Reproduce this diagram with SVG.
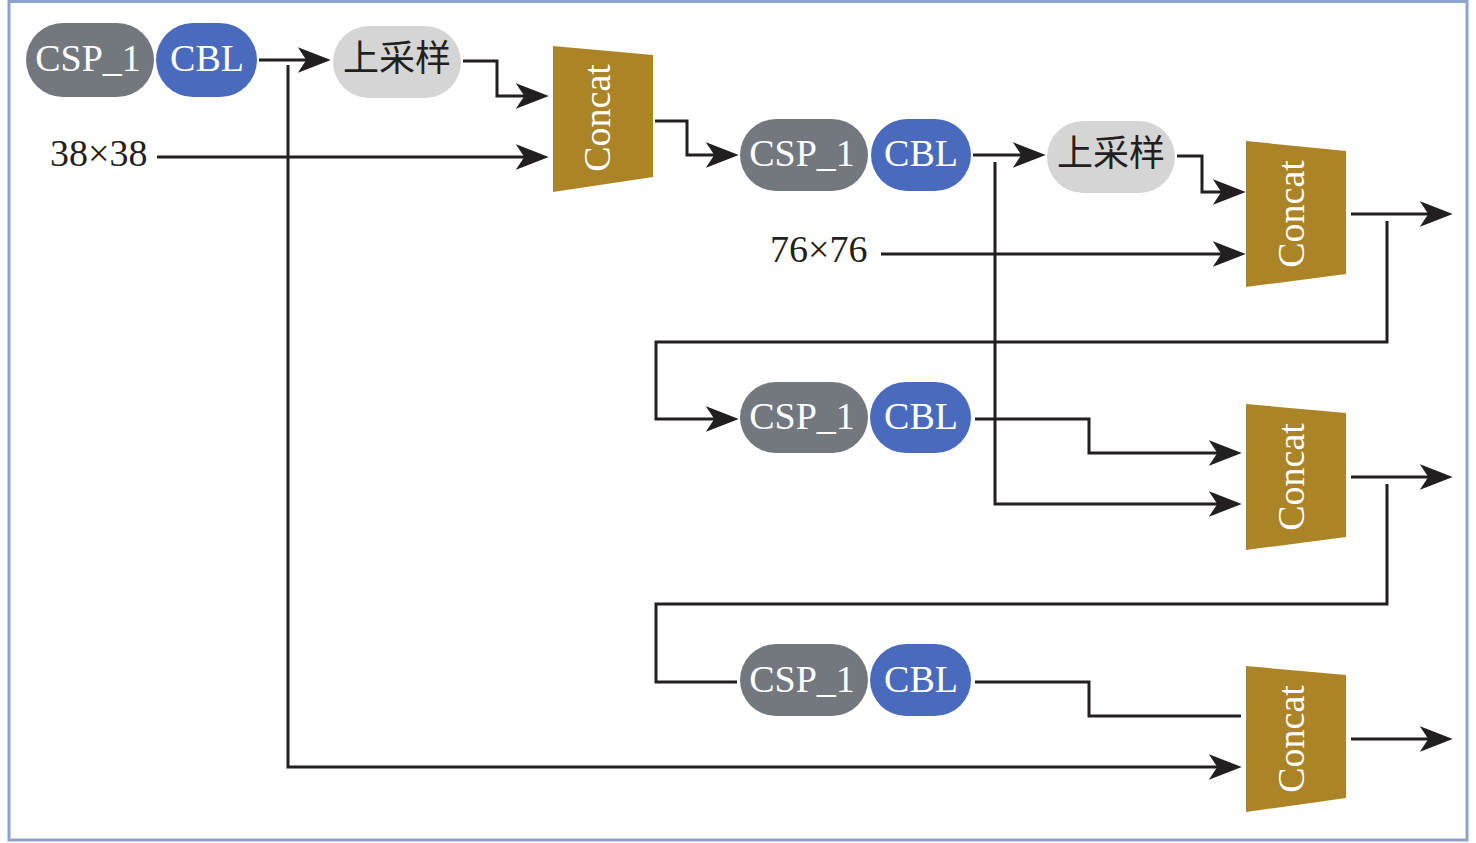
<svg xmlns="http://www.w3.org/2000/svg" width="1476" height="843" viewBox="0 0 1476 843">
<style>
.frame{fill:#ffffff;stroke:#8fa2cd;stroke-width:3}
.csp{fill:#73787e}
.cbl{fill:#4a6bbd}
.up{fill:#d5d5d5}
.cat{fill:#ab8427}
.lt{font-family:"Liberation Serif","Times New Roman",serif;font-size:38px;fill:#ffffff;text-anchor:middle}
.ut{font-family:"Liberation Serif","Noto Sans CJK SC",serif;font-size:36px;fill:#231f20;text-anchor:middle;dominant-baseline:central}
.dim{font-family:"Liberation Serif","Times New Roman",serif;font-size:38px;fill:#231f20}
.ln{fill:none;stroke:#231f20;stroke-width:3}
.ar{marker-end:url(#ah)}
</style>
<defs>
<marker id="ah" markerUnits="userSpaceOnUse" markerWidth="34" markerHeight="28" viewBox="0 0 32 26" refX="19" refY="13" orient="auto">
<path d="M0,1 L31,13 L0,25 L8,13 Z" fill="#231f20"/>
</marker>
</defs>
<rect class="frame" x="9" y="1.5" width="1458" height="838.5"/>

<g id="connectors">
<path class="ln ar" d="M259,60 H318"/>
<path class="ln ar" d="M288,65 V767 H1229"/>
<path class="ln ar" d="M157,157 H536"/>
<path class="ln ar" d="M463,61 H497 V96 H536"/>
<path class="ln ar" d="M655,121 H687 V155 H726"/>
<path class="ln ar" d="M973,155 H1033"/>
<path class="ln ar" d="M995,162 V504 H1229"/>
<path class="ln ar" d="M1177,156 H1202 V192 H1233"/>
<path class="ln ar" d="M881,254 H1233"/>
<path class="ln ar" d="M1351,214 H1440"/>
<path class="ln ar" d="M1387,221 V342 H656 V419 H726"/>
<path class="ln ar" d="M975,419 H1089 V453 H1229"/>
<path class="ln ar" d="M1351,477 H1440"/>
<path class="ln" d="M1387,484 V604 H656 V682 H737"/>
<path class="ln" d="M975,682 H1089 V716 H1241"/>
<path class="ln ar" d="M1351,739 H1440"/>
</g>

<g id="csp1">
<rect class="csp" x="26" y="23" width="128" height="74" rx="37"/>
<text class="lt" x="88" y="71">CSP_1</text>
</g>
<g id="cbl1">
<rect class="cbl" x="156" y="23" width="101" height="74" rx="37"/>
<text class="lt" x="207" y="71">CBL</text>
</g>
<g id="up1">
<rect class="up" x="333" y="26" width="128" height="72" rx="36"/>
<text class="ut" x="397" y="59">上采样</text>
</g>
<g id="in38">
<text class="dim" x="50" y="166">38×38</text>
</g>
<g id="concat1">
<polygon class="cat" points="553,46 653,55 653,177 553,192"/>
<text class="lt" transform="translate(610,118) rotate(-90)">Concat</text>
</g>

<g id="csp2">
<rect class="csp" x="740" y="119" width="128" height="72" rx="36"/>
<text class="lt" x="802" y="166">CSP_1</text>
</g>
<g id="cbl2">
<rect class="cbl" x="871" y="119" width="100" height="72" rx="36"/>
<text class="lt" x="921" y="166">CBL</text>
</g>
<g id="up2">
<rect class="up" x="1047" y="121" width="128" height="72" rx="36"/>
<text class="ut" x="1111" y="154">上采样</text>
</g>
<g id="in76">
<text class="dim" x="770" y="262">76×76</text>
</g>
<g id="concat2">
<polygon class="cat" points="1246,141 1346,151 1346,274 1246,287"/>
<text class="lt" transform="translate(1304,214) rotate(-90)">Concat</text>
</g>

<g id="csp3">
<rect class="csp" x="740" y="382" width="128" height="71" rx="35.5"/>
<text class="lt" x="802" y="429">CSP_1</text>
</g>
<g id="cbl3">
<rect class="cbl" x="870" y="382" width="101" height="71" rx="35.5"/>
<text class="lt" x="921" y="429">CBL</text>
</g>
<g id="concat3">
<polygon class="cat" points="1246,404 1346,413 1346,537 1246,550"/>
<text class="lt" transform="translate(1304,477) rotate(-90)">Concat</text>
</g>

<g id="csp4">
<rect class="csp" x="740" y="644" width="128" height="72" rx="36"/>
<text class="lt" x="802" y="692">CSP_1</text>
</g>
<g id="cbl4">
<rect class="cbl" x="870" y="644" width="101" height="72" rx="36"/>
<text class="lt" x="921" y="692">CBL</text>
</g>
<g id="concat4">
<polygon class="cat" points="1246,666 1346,675 1346,798 1246,812"/>
<text class="lt" transform="translate(1304,739) rotate(-90)">Concat</text>
</g>
</svg>
